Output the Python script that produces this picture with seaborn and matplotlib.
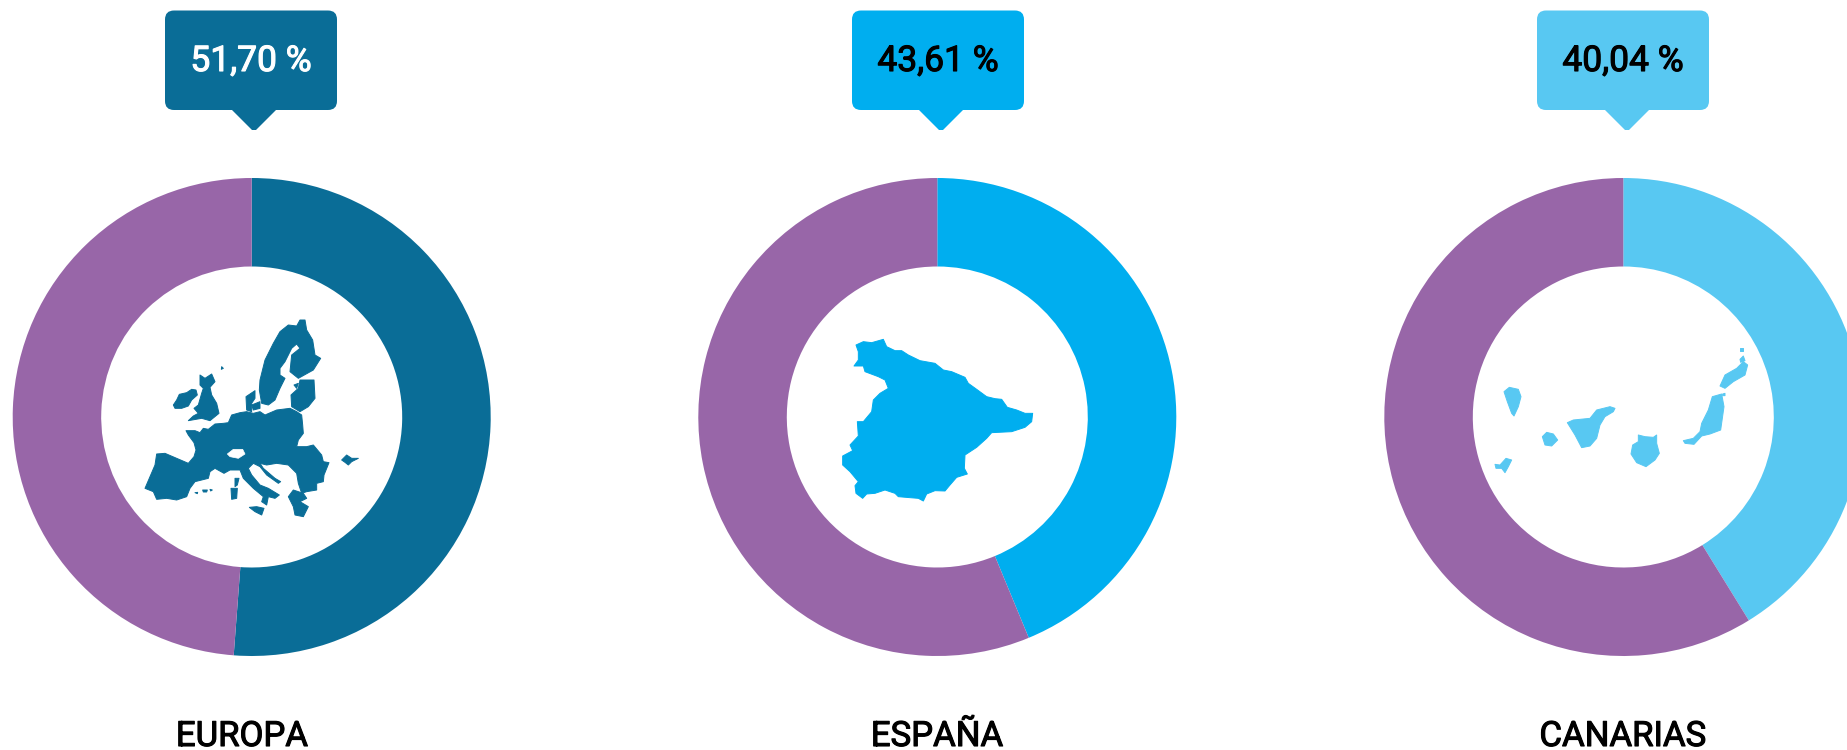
import matplotlib
matplotlib.use("Agg")
import matplotlib.pyplot as plt
import matplotlib.patheffects as pe
from matplotlib.patches import FancyBboxPatch, Polygon
import seaborn as sns

# ==============================================================================
# DATA
# ==============================================================================
regions = ["EUROPA", "ESPAÑA", "CANARIAS"]
# the slices as drawn in the picture differ a little from their printed labels
shares = [51.2, 43.75, 41.2]
share_labels = ["51,70 %", "43,61 %", "40,04 %"]
region_colors = ["#0A6D97", "#00AEEF", "#58C8F2"]
rest_color = "#9866A8"
value_text_colors = ["white", "black", "black"]

# map silhouettes, traced as pixels of a 3x crop
europe_shapes = [
    [(110,462),(135,460),(170,475),(205,490),(222,470),(228,450),(222,428),(205,405),(198,392),(225,392),(240,398),(250,385),(265,388),
     (285,372),(310,370),(325,368),(335,345),(360,338),(380,335),(400,340),(420,335),(435,345),(470,330),(510,325),(530,335),(545,345),
     (548,375),(550,400),(535,420),(530,440),(560,440),(580,435),(605,465),(610,485),(627,488),(612,525),(610,545),(590,550),(590,570),
     (560,575),(545,580),(535,550),(530,520),(505,495),(470,490),(440,495),(420,490),(430,505),(465,535),(482,545),(475,550),(440,525),
     (420,500),(400,490),(385,505),(395,525),(420,555),(445,565),(478,585),(465,595),(445,590),(440,615),(425,605),(430,590),(400,565),
     (370,535),(360,510),(330,510),(312,520),(285,505),(270,515),(265,535),(225,545),(210,565),(200,590),(170,600),(140,595),(110,598),
     (100,575),(75,565),(90,530),(105,495)],
    [(420,240),(435,180),(460,130),(480,95),(505,75),(530,78),(540,60),(555,60),(560,90),(578,120),(585,165),(602,175),
     (580,210),(535,235),(510,215),(515,165),(540,145),(530,132),(515,145),(495,185),(480,205),(480,225),(495,235),
     (480,265),(465,300),(445,315),(425,310),(418,270)],
    [(540,240),(582,240),(585,295),(565,320),(540,335),(515,320),(513,285),(535,265)],
    [(160,315),(170,300),(178,283),(200,278),(215,268),(228,270),(232,285),(215,300),(205,318),(185,325),(165,325)],
    [(240,225),(255,235),(275,222),(285,245),(270,262),(275,285),(290,310),(297,340),(270,362),(245,355),(205,362),
     (220,348),(235,340),(222,325),(235,315),(245,280),(250,265),(240,255)],
    [(378,290),(405,272),(405,295),(395,310),(395,335),(380,330)],
    [(395,315),(420,305),(420,325),(400,330)],
    [(505,590),(520,570),(550,580),(560,595),(540,605),(565,620),(550,650),(525,645),(520,620)],
    [(665,480),(680,465),(695,475),(715,475),(695,485),(685,495),(675,487)],
    [(345,535),(357,535),(352,555),(345,560)],
    [(333,565),(352,565),(350,595),(335,598)],
    [(388,622),(410,620),(432,625),(425,645),(405,635)],
    [(225,578),(233,577),(232,581)],
    [(248,570),(262,570),(260,576),(250,576)],
    [(270,568),(277,570),(272,573)],
    [(305,200),(310,205),(304,208)],
    [(522,255),(535,250),(530,265)],
]
europe_holes = [[(322,462),(340,448),(368,448),(375,462),(355,475),(330,470)]]
spain_shapes = [
    [(78,75),(100,65),(125,68),(160,58),(170,80),(195,92),(215,92),(235,105),(270,122),(315,130),(340,150),(365,155),
     (405,172),(415,190),(440,208),(470,230),(495,236),(515,238),(532,262),(560,270),(585,280),(608,280),(605,305),
     (585,322),(545,335),(485,338),(470,355),(440,382),(405,405),(403,445),(412,462),(380,472),(360,495),(345,513),
     (315,512),(290,522),(280,543),(265,535),(240,533),(205,530),(195,520),(165,510),(135,520),(110,522),(98,535),
     (78,520),(75,497),(85,485),(60,455),(38,435),(38,408),(68,392),(60,375),(85,348),(82,305),(100,305),(125,275),
     (130,240),(150,220),(175,205),(165,180),(145,170),(105,155),(100,138),(72,138),(85,120),(85,95)],
]
canary_shapes = [
    [(72,185),(88,172),(115,178),(123,200),(115,230),(102,258),(95,250),(82,215)],
    [(45,403),(60,405),(78,385),(95,390),(85,410),(75,428),(65,415),(48,415)],
    [(187,320),(200,307),(220,312),(233,330),(215,348),(195,345)],
    [(262,278),(280,270),(330,265),(350,240),(390,230),(405,235),(400,245),(375,260),(360,285),(350,325),(330,348),
     (305,353),(285,315)],
    [(475,315),(495,320),(520,322),(530,315),(530,340),(538,370),(525,390),(498,410),(470,398),(453,372),(458,345),
     (475,335)],
    [(610,332),(640,325),(660,305),(665,280),(685,240),(697,200),(725,192),(732,230),(722,300),(690,312),(665,318),
     (642,343),(615,340)],
    [(720,168),(735,135),(770,115),(790,95),(803,105),(795,135),(760,155),(735,175)],
    [(780,88),(790,78),(795,92),(782,97)],
    [(780,55),(790,55),(790,62),(780,62)],
    [(728,192),(735,190),(735,197),(728,197)],
]
map_shapes = [europe_shapes, spain_shapes, canary_shapes]
map_holes = [europe_holes, [], []]
map_origins = [(120, 300), (830, 320), (1480, 330)]

# ==============================================================================
# LAYOUT (pixels)
# ==============================================================================
W, H = 1847, 750
centers = [251.7, 937.3, 1623.3]
label_x = [242, 937, 1623]
cy = 417
outer_r = 239
inner_r = 150.5
callout_x = [165, 852, 1537]
callout_w = 172
tips = [254, 941, 1627]

sns.set_theme(style="white")
plt.rcParams["font.family"] = ["Roboto", "DejaVu Sans"]
fig = plt.figure(figsize=(W / 100, H / 100), dpi=100, facecolor="white")

# ==============================================================================
# DONUTS
# ==============================================================================
for cx, share, color in zip(centers, shares, region_colors):
    ax = fig.add_axes([(cx - outer_r) / W, 1 - (cy + outer_r) / H, 2 * outer_r / W, 2 * outer_r / H])
    ax.pie([share, 100 - share], colors=sns.color_palette([color, rest_color]), startangle=90, counterclock=False,
           radius=1, wedgeprops={"width": 1 - inner_r / outer_r, "linewidth": 0})
    ax.set_xlim(-1, 1)
    ax.set_ylim(-1, 1)

# ==============================================================================
# CALLOUTS, MAPS, LABELS
# ==============================================================================
top = fig.add_axes([0, 0, 1, 1], zorder=5)
top.set_xlim(0, W)
top.set_ylim(H, 0)
top.axis("off")
top.patch.set_alpha(0)

for i, region in enumerate(regions):
    color = region_colors[i]
    x0 = callout_x[i]
    top.add_patch(FancyBboxPatch((x0, 10.5), callout_w, 99.5, boxstyle="round,pad=0,rounding_size=9",
                                 facecolor=color, edgecolor="none"))
    tip = tips[i]
    top.add_patch(Polygon([(tip - 23, 109), (tip + 23, 109), (tip + 2, 130), (tip - 2, 130)],
                          closed=True, facecolor=color, edgecolor="none"))
    value = top.text(x0 + callout_w / 2, 71, share_labels[i], color=value_text_colors[i], fontsize=25.5,
                     ha="center", va="baseline")
    value.set_path_effects([pe.withStroke(linewidth=0.8, foreground=value_text_colors[i])])
    label = top.text(label_x[i], 746, region, color="black", fontsize=25, ha="center", va="baseline")
    label.set_path_effects([pe.withStroke(linewidth=0.8, foreground="black")])

    ox, oy = map_origins[i]
    for shape in map_shapes[i]:
        pts = [(ox + px / 3, oy + py / 3) for px, py in shape]
        top.add_patch(Polygon(pts, closed=True, facecolor=color, edgecolor=color, linewidth=0.7, joinstyle="round"))
    for shape in map_holes[i]:
        pts = [(ox + px / 3, oy + py / 3) for px, py in shape]
        top.add_patch(Polygon(pts, closed=True, facecolor="white", edgecolor="white", linewidth=0.5))

fig.savefig("out.png", dpi=100)
plt.close(fig)
